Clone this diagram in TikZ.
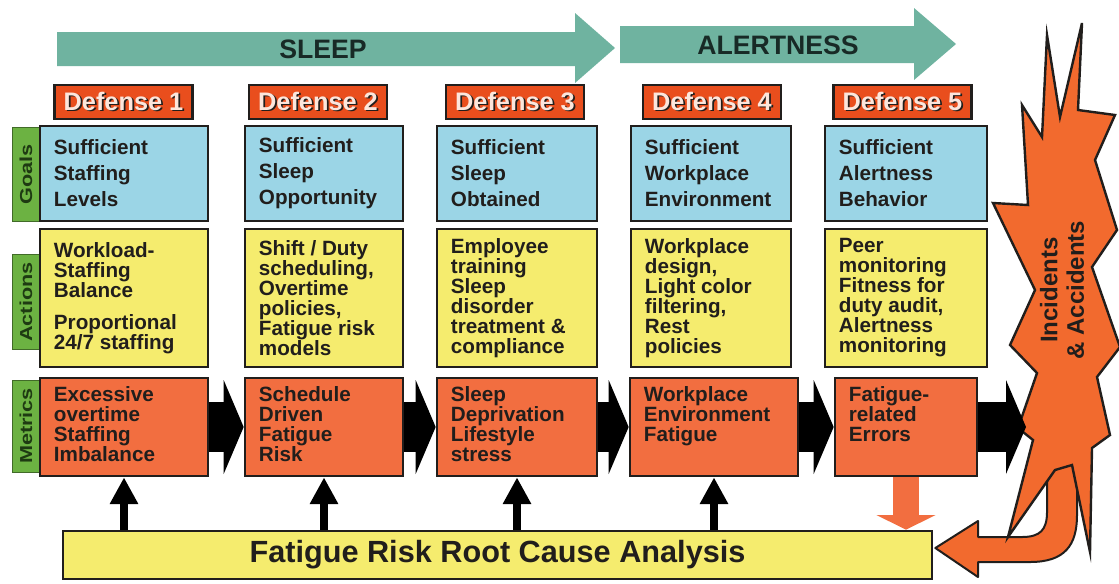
\documentclass[tikz,border=0pt]{standalone}
\usepackage{fontspec}
\usepackage{graphicx}
\setmainfont{Liberation Sans}
\usetikzlibrary{arrows.meta,calc}

\definecolor{bandgreen}{RGB}{111,179,160}
\definecolor{bandink}{RGB}{24,42,38}
\definecolor{defred}{RGB}{233,78,29}
\definecolor{defink}{RGB}{252,230,220}
\definecolor{goalblue}{RGB}{155,213,230}
\definecolor{actyellow}{RGB}{245,236,110}
\definecolor{metorange}{RGB}{242,110,64}
\definecolor{labgreen}{RGB}{108,178,66}
\definecolor{labink}{RGB}{30,58,18}
\definecolor{boom}{RGB}{242,106,46}
\definecolor{ink}{RGB}{33,30,28}

\newcommand{\defshadow}[1]{\rlap{\kern1.3pt\raisebox{-1.3pt}{\textcolor{ink}{#1}}}#1}

\begin{document}
\begin{tikzpicture}[x=0.75pt,y=-0.75pt,font=\bfseries,
  cell/.style={draw=ink,line width=2pt,inner sep=0pt,minimum height=#1},
  celltext/.style={inner sep=0pt,align=left,text=ink,font=\bfseries\fontsize{15.5}{15}\selectfont},
  defbox/.style={fill=defred,draw=ink,line width=2pt,minimum width=103.5pt,minimum height=25.5pt,
    inner sep=0pt,text=defink,font=\bfseries\fontsize{19}{20}\selectfont},
  tag/.style={rotate=90,fill=labgreen,draw=labgreen!60!black,line width=0.6pt,minimum height=21pt,
    inner sep=0pt,text=labink,font=\bfseries\fontsize{13}{14}\selectfont},
  bandtext/.style={text=bandink,font=\bfseries\fontsize{20}{22}\selectfont},
  blackarrow/.style={line width=37.5pt,-{Triangle[length=15pt,width=70pt]}},
  uparrow/.style={line width=6pt,-{Triangle[length=20pt,width=20pt]}},
  ]
  \useasboundingbox (0,0) rectangle (1119,583);

  % sleep / alertness bands
  \fill[bandgreen] (57,32) -- (575,32) -- (575,13) -- (615,48) -- (575,83) -- (575,66) -- (57,66) -- cycle;
  \node[bandtext] (sleep) at (323,49) {SLEEP};
  \fill[bandgreen] (620,26) -- (914,26) -- (914,8) -- (956,44) -- (914,80) -- (914,63) -- (620,63) -- cycle;
  \node[bandtext] (alert) at (778,45) {ALERTNESS};

  \foreach \i/\x in {1/123.5,2/318,3/515,4/712,5/902.5}
    \node[defbox] (d\i) at (\x,102) {\defshadow{Defense \i}};

  \newcommand{\rowtag}[4]{%
    \node[tag,minimum width=#3] (#1) at (26,#2) {\scalebox{1.25}[1]{#4}};
  }
  \rowtag{goals}{174.5}{71pt}{Goals}
  \rowtag{actions}{302}{71pt}{Actions}
  \rowtag{metrics}{426}{69pt}{Metrics}

  \foreach \i/\x/\w/\txt in {1/124/126pt/{Sufficient\\Staffing\\Levels},
      2/324/118.5pt/{Sufficient\\Sleep\\Opportunity},
      3/517/120pt/{Sufficient\\Sleep\\Obtained},
      4/711/120pt/{Sufficient\\Workplace\\Environment},
      5/906/121.5pt/{Sufficient\\Alertness\\Behavior}}{
    \node[cell=71.25pt,fill=goalblue,minimum width=\w] (g\i) at (\x,173.5) {};
    \node[celltext,font=\bfseries\fontsize{15.5}{19.5}\selectfont,anchor=west] (gt\i) at ($(g\i.west)+(15,0)$) {\txt};
  }

  \foreach \i/\x/\w/\txt in {1/124/126pt/{Workload-\\Staffing\\Balance\\[9pt]Proportional\\24/7 staffing},
      2/324/118.5pt/{Shift / Duty\\scheduling,\\Overtime\\policies,\\Fatigue risk\\models},
      3/517/120pt/{Employee\\training\\Sleep\\disorder\\treatment \&\\compliance},
      4/711/120pt/{Workplace\\design,\\Light color\\filtering,\\Rest\\policies},
      5/906/121.5pt/{Peer\\monitoring\\Fitness for\\duty audit,\\Alertness\\monitoring}}{
    \node[cell=103.5pt,fill=actyellow,minimum width=\w] (a\i) at (\x,298) {};
    \node[celltext,anchor=west] (ac\i) at ($(a\i.west)+(15,0)$) {\txt};
  }

  \foreach \i/\x/\w/\txt in {1/124/126pt/{Excessive\\overtime\\Staffing\\Imbalance},
      2/324/118.5pt/{Schedule\\Driven\\Fatigue\\Risk},
      3/517/120pt/{Sleep\\Deprivation\\Lifestyle\\stress},
      4/714/126pt/{Workplace\\Environment\\Fatigue},
      5/906/106.5pt/{Fatigue-\\related\\Errors}}{
    \node[cell=73.5pt,fill=metorange,minimum width=\w] (m\i) at (\x,427) {};
    \node[celltext,anchor=north west] (mt\i) at ($(m\i.north west)+(15,10)$) {\txt};
  }

  \node[cell=36pt,fill=actyellow,minimum width=651.75pt,font=\bfseries\fontsize{23}{26}\selectfont,text=ink]
    (root) at (497.5,555) {Fatigue Risk Root Cause Analysis};

  % loop back into the analysis
  \coordinate (back) at ($(root.east)+(2,-7)$);
  \draw[fill=boom,draw=ink,line width=1.5pt,line join=round]
    (1047,455) -- (1047,512) .. controls (1047,530) and (1040,537) .. (1022,537)
    -- (978,537) -- (978,521) -- (back) -- (978,577) -- (978,562) -- (1030,562)
    .. controls (1065,562) and (1077,545) .. (1077,515) -- (1077,455);

  \draw[fill=boom,draw=ink,line width=1.8pt,line join=miter]
    (1047,35) -- (1060,117) -- (1082,23) -- (1078,110) -- (1115,115) -- (1095,160)
    -- (1117,230) -- (1092,267) -- (1120,347) -- (1097,377) -- (1110,435) -- (1092,448)
    -- (1090,552) -- (1072,465) -- (1055,470) -- (1008,537) -- (1033,440) -- (1018,428)
    -- (1037,373) -- (1010,345) -- (1035,290) -- (993,203) -- (1028,205) -- (1022,105)
    -- (1042,137) -- cycle;
  \node[rotate=90,align=center,text=ink,font=\bfseries\fontsize{18}{20}\selectfont] (inc) at (1062,290)
    {Incidents\\\& Accidents};

  \foreach \i/\j in {1/2,2/3,3/4,4/5}
    \draw[blackarrow] (m\i.east) -- (m\j.west);
  \coordinate (hit) at (1026,427);
  \draw[blackarrow] (m5.east) -- (hit);

  \foreach \i in {1,2,3,4}
    \draw[uparrow] (m\i.south |- root.north) -- (m\i.south);
  \draw[metorange,line width=20pt,-{Triangle[length=11pt,width=44pt]}] (m5.south) -- (m5.south |- root.north);
\end{tikzpicture}
\end{document}
